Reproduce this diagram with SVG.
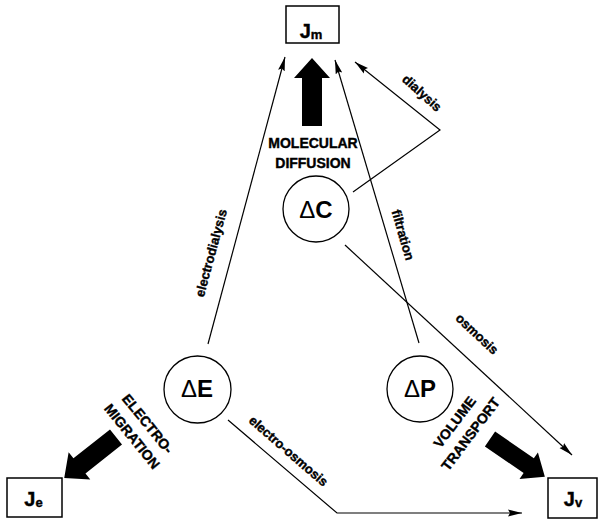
<svg xmlns="http://www.w3.org/2000/svg" width="598" height="520" viewBox="0 0 598 520">
  <style>
    .box { fill: #fff; stroke: #000; stroke-width: 1.5; }
    .node { fill: #fff; stroke: #000; stroke-width: 1.3; }
    .conn { fill: none; stroke: #000; stroke-width: 1.2; }
    .lbl { font-family: "Liberation Sans", Arial, sans-serif; font-weight: bold; fill: #000; }
    .heavy { stroke: #000; stroke-width: 0.4; }
    .small { font-size: 13px; }
    .caps { font-size: 14px; }
    .flux { font-size: 20px; }
    .sub { font-size: 13px; }
    .sym { font-size: 24px; }
    .delta { font-weight: normal; }
  </style>
  <defs>
    <marker id="ah" markerUnits="userSpaceOnUse" markerWidth="15" markerHeight="8" refX="14" refY="4" orient="auto">
      <path d="M0,0.6 L14,4 L0,7.4 L2,4 Z" fill="#000"/>
    </marker>
    <!-- broad block arrow pointing along +x, tail at origin -->
    <path id="bigArrow" d="M0,-10 L48,-10 L48,-18 L68,0 L48,18 L48,10 L0,10 Z" fill="#000"/>
  </defs>
  <rect width="598" height="520" fill="#fff"/>

  <!-- connectors -->
  <g id="connectors">
    <line class="conn" x1="208" y1="344" x2="285" y2="57" marker-end="url(#ah)"/>
    <line class="conn" x1="419" y1="343" x2="335" y2="60" marker-end="url(#ah)"/>
    <polyline class="conn" points="353,192 440,130 355,62" marker-end="url(#ah)"/>
    <line class="conn" x1="345" y1="245" x2="572" y2="455" marker-end="url(#ah)"/>
    <polyline class="conn" points="228,420 337,513 522,513" marker-end="url(#ah)"/>
    <use href="#bigArrow" transform="translate(312,126) rotate(-90)"/>
    <use href="#bigArrow" transform="translate(116,437) rotate(141.7) scale(0.97)"/>
    <use href="#bigArrow" transform="translate(490,439) rotate(34.6) scale(0.98,0.9)"/>
  </g>

  <!-- connector labels -->
  <g id="labels" class="lbl heavy">
    <text class="small" text-anchor="middle" transform="translate(211,253) rotate(-75)" y="4.5">electrodialysis</text>
    <text class="small" text-anchor="middle" transform="translate(403,235) rotate(74)" y="4.5">filtration</text>
    <text class="small" text-anchor="middle" transform="translate(422,93) rotate(42)" y="4.5">dialysis</text>
    <text class="small" text-anchor="middle" transform="translate(477,334) rotate(43)" y="4.5">osmosis</text>
    <text class="small" text-anchor="middle" transform="translate(288.5,451) rotate(41)" y="4.5">electro-osmosis</text>
    <text class="caps" text-anchor="middle" x="313" y="148">MOLECULAR</text>
    <text class="caps" text-anchor="middle" x="313" y="168">DIFFUSION</text>
    <g transform="translate(140,430) rotate(51)">
      <text class="caps" text-anchor="middle" y="-5">ELECTRO-</text>
      <text class="caps" text-anchor="middle" y="15">MIGRATION</text>
    </g>
    <g transform="translate(462.5,428) rotate(-53)">
      <text class="caps" text-anchor="middle" y="-5">VOLUME</text>
      <text class="caps" text-anchor="middle" y="15">TRANSPORT</text>
    </g>
  </g>

  <!-- flux boxes -->
  <g id="Jm">
    <rect class="box" x="286" y="6" width="53" height="37"/>
    <text class="lbl flux heavy" text-anchor="middle" x="311" y="38">J<tspan class="sub" dy="1">m</tspan></text>
  </g>
  <g id="Je">
    <rect class="box" x="7" y="478" width="55" height="39"/>
    <text class="lbl flux heavy" text-anchor="middle" x="33.5" y="506">J<tspan class="sub" dy="1">e</tspan></text>
  </g>
  <g id="Jv">
    <rect class="box" x="548" y="478" width="49" height="40"/>
    <text class="lbl flux heavy" text-anchor="middle" x="573" y="506">J<tspan class="sub" dy="1">v</tspan></text>
  </g>

  <!-- driving forces -->
  <g id="dC">
    <circle class="node" cx="316" cy="209" r="33"/>
    <text class="lbl sym" text-anchor="middle" x="316" y="217.5"><tspan class="delta">Δ</tspan>C</text>
  </g>
  <g id="dE">
    <circle class="node" cx="197.5" cy="389.5" r="33.5"/>
    <text class="lbl sym" text-anchor="middle" x="197" y="397"><tspan class="delta">Δ</tspan>E</text>
  </g>
  <g id="dP">
    <circle class="node" cx="420" cy="389" r="33"/>
    <text class="lbl sym" text-anchor="middle" x="420" y="397"><tspan class="delta">Δ</tspan>P</text>
  </g>
</svg>
